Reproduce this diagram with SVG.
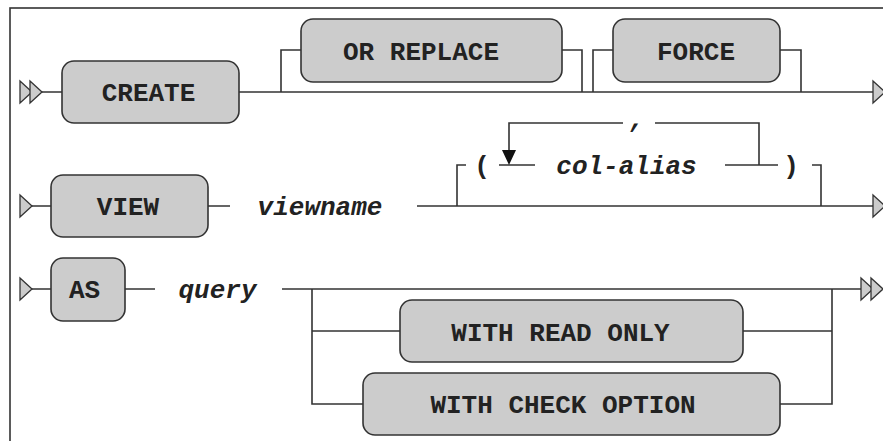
<svg xmlns="http://www.w3.org/2000/svg" width="883" height="441" viewBox="0 0 883 441">
<style>
.box{fill:#cccccc;stroke:#333333;stroke-width:1.6}
.kw{font-family:"Liberation Mono",monospace;font-weight:bold;font-size:26px;fill:#222222;text-anchor:middle}
.it{font-family:"Liberation Mono",monospace;font-weight:bold;font-style:italic;font-size:26px;fill:#222222;text-anchor:middle}
.ln{fill:none;stroke:#333333;stroke-width:1.6}
.tri{fill:#cccccc;stroke:#333333;stroke-width:1.3}
</style>
<rect x="10" y="8" width="900" height="500" fill="#ffffff" stroke="#333333" stroke-width="1.6"/>
<g id="connectors">
<path class="ln" d="M42,92 H62 M239,92 H873 M281,92 V50 H301 M562,50 H582 V92 M593,92 V50 H613 M780,50 H801 V92"/>
<path class="ln" d="M32,206 H51 M208,206 H230 M417,206 H873 M457,206 V165 H466 M499,165 H535 M725,165 H778 M812,165 H821 V206 M759,165 V123 H655 M623,123 H509 V152"/>
<polygon points="502,150 516,150 509,165" fill="#111111"/>
<path class="ln" d="M32,289 H51 M125,289 H155 M282,289 H863 M312,289 V404 H363 M312,331 H400 M743,331 H832 M780,404 H832 V289"/>
<polygon class="tri" points="20,81 32,92 20,103"/>
<polygon class="tri" points="30,81 42,92 30,103"/>
<polygon class="tri" points="873,81 885,92 873,103"/>
<polygon class="tri" points="20,195 32,206 20,217"/>
<polygon class="tri" points="873,195 885,206 873,217"/>
<polygon class="tri" points="20,278 32,289 20,300"/>
<polygon class="tri" points="861,278 873,289 861,300"/>
<polygon class="tri" points="871,278 883,289 871,300"/>
</g>
<g id="create"><rect class="box" x="62" y="61" width="177" height="62" rx="12"/><text class="kw" x="148.5" y="100.5">CREATE</text></g>
<g id="or-replace"><rect class="box" x="301" y="19" width="261" height="63" rx="12"/><text class="kw" x="421" y="59.5">OR REPLACE</text></g>
<g id="force"><rect class="box" x="613" y="19" width="167" height="63" rx="12"/><text class="kw" x="696" y="59.5">FORCE</text></g>
<g id="view"><rect class="box" x="51" y="175" width="157" height="62" rx="12"/><text class="kw" x="128" y="215">VIEW</text></g>
<g id="viewname"><text class="it" x="320" y="215">viewname</text></g>
<g id="lparen"><text class="kw" x="482" y="174">(</text></g>
<g id="col-alias"><text class="it" x="626.5" y="174">col-alias</text></g>
<g id="comma"><text class="it" x="637" y="127">,</text></g>
<g id="rparen"><text class="kw" x="791" y="174">)</text></g>
<g id="as"><rect class="box" x="51" y="258" width="74" height="63" rx="12"/><text class="kw" x="84.5" y="298">AS</text></g>
<g id="query"><text class="it" x="217.5" y="298">query</text></g>
<g id="with-read-only"><rect class="box" x="400" y="300" width="343" height="62" rx="12"/><text class="kw" x="560.5" y="340.5">WITH READ ONLY</text></g>
<g id="with-check-option"><rect class="box" x="363" y="373" width="417" height="62" rx="12"/><text class="kw" x="563" y="413">WITH CHECK OPTION</text></g>
</svg>
